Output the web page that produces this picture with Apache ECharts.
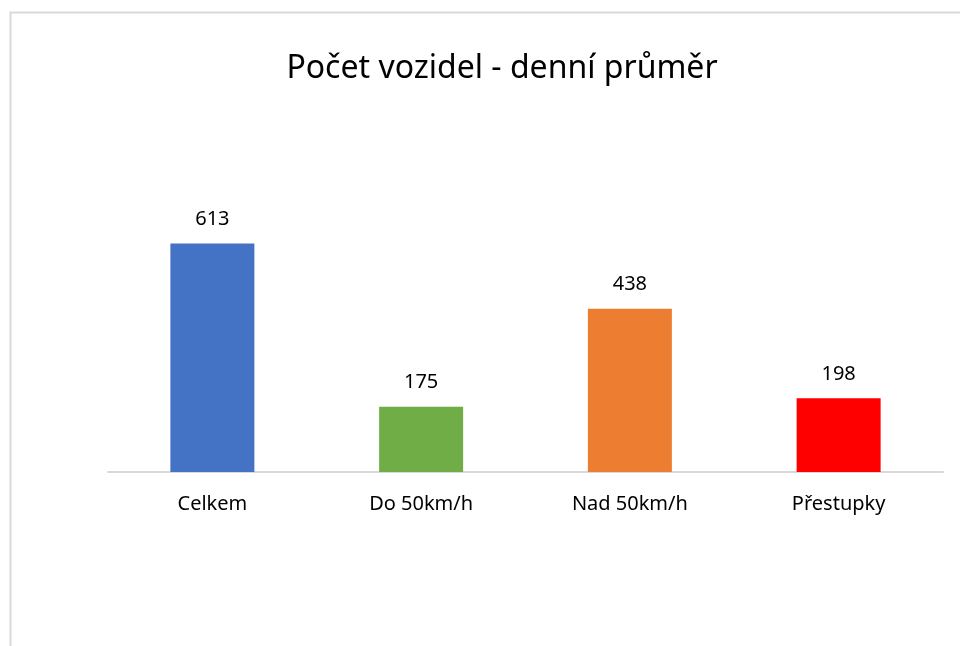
<!DOCTYPE html>
<html>
<head>
<meta charset="utf-8">
<script src="https://cdn.jsdelivr.net/npm/echarts@6/dist/echarts.min.js"></script>
<style>
  html, body { margin: 0; padding: 0; background: #fff; }
  #chart { width: 960px; height: 646px; }
</style>
</head>
<body>
<div id="chart"></div>
<script>
const categories = ['Celkem', 'Do 50km/h', 'Nad 50km/h', 'Přestupky'];
const values = [613, 175, 438, 198];
const barColors = ['#4472c4', '#70ad47', '#ed7d31', '#ff0000'];

const chart = echarts.init(document.getElementById('chart'), null, { renderer: 'canvas' });
const font = '"Noto Sans", "Open Sans", sans-serif';

chart.setOption({
  backgroundColor: '#fff',
  animation: false,
  // outer chart border, runs off the right and bottom edges
  graphic: [{
    type: 'rect', z: -1,
    shape: { x: 10.5, y: 12.5, width: 1000, height: 700 },
    style: { fill: 'none', stroke: '#d9d9d9', lineWidth: 2 }
  }],
  title: {
    text: 'Počet vozidel - denní průměr',
    left: 497, top: 48, textAlign: 'center',
    textStyle: { fontFamily: font, fontWeight: 'normal', fontSize: 32, color: '#000' }
  },
  grid: { left: 108, right: 17, top: 211, bottom: 174 },
  xAxis: {
    type: 'category',
    data: categories,
    axisLine: { lineStyle: { color: '#d9d9d9', width: 2 } },
    axisTick: { show: false },
    axisLabel: { margin: 22, fontFamily: font, fontSize: 20, color: '#000' }
  },
  yAxis: {
    type: 'value', min: 0, max: 700,
    show: false, splitLine: { show: false }
  },
  series: [{
    type: 'bar',
    barWidth: 84,
    data: values.map((v, i) => ({ value: v, itemStyle: { color: barColors[i] } })),
    label: {
      show: true, position: 'top', distance: 14,
      fontFamily: font, fontSize: 20, color: '#000'
    }
  }]
});
</script>
</body>
</html>
